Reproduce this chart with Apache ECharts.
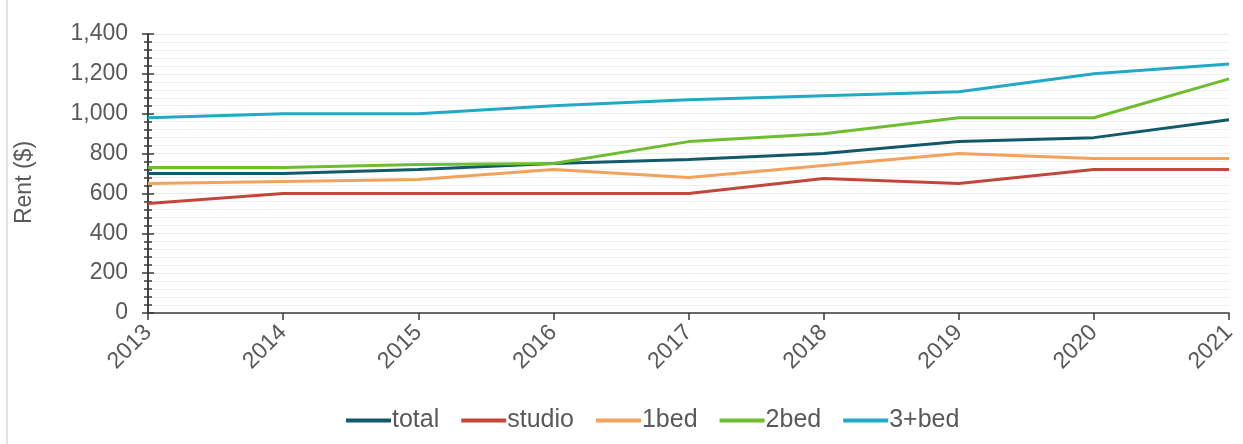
<!DOCTYPE html>
<html>
<head>
<meta charset="utf-8">
<script src="https://cdn.jsdelivr.net/npm/echarts@6/dist/echarts.min.js"></script>
<style>
  html, body { margin: 0; padding: 0; background: #ffffff; }
  #chart { width: 1243px; height: 444px; }
</style>
</head>
<body>
<div id="chart"></div>
<script>
// Average monthly rent by unit type, 2013–2021
const years = ['2013', '2014', '2015', '2016', '2017', '2018', '2019', '2020', '2021'];
const total  = [700, 700, 720, 750, 770, 800, 860, 880, 970];
const studio = [550, 600, 600, 600, 600, 675, 650, 720, 720];
const bed1   = [650, 660, 670, 720, 680, 740, 800, 775, 775];
const bed2   = [730, 730, 745, 750, 860, 900, 980, 980, 1175];
const bed3   = [980, 1000, 1000, 1040, 1070, 1090, 1110, 1200, 1250];
const yTicks = [0, 200, 400, 600, 800, 1000, 1200, 1400];

const seriesDefs = [
  { name: 'total',  data: total,  color: '#12596a' },
  { name: 'studio', data: studio, color: '#c2473b' },
  { name: '1bed',   data: bed1,   color: '#f2a25a' },
  { name: '2bed',   data: bed2,   color: '#6dbd2f' },
  { name: '3+bed',  data: bed3,   color: '#21a9c6' }
];

const textColor = '#595959';
const font = 'Liberation Sans, Arial, sans-serif';
const fs = 23;

const chart = echarts.init(document.getElementById('chart'), null, { renderer: 'canvas' });

const yBase = {
  type: 'value',
  min: yTicks[0],
  max: yTicks[yTicks.length - 1],
  interval: 200,
  position: 'left',
  axisLine: { show: true, lineStyle: { color: '#3a3a3a', width: 1.5 } },
  minorTick: { show: true, splitNumber: 5, length: 4, lineStyle: { color: '#3a3a3a', width: 1.5 } }
};

chart.setOption({
  animation: false,
  textStyle: { fontFamily: font },
  graphic: [{
    // thin frame edge on the left side of the figure
    type: 'line',
    shape: { x1: 7, y1: 0, x2: 7, y2: 444 },
    style: { stroke: '#c8c8c8', lineWidth: 1 },
    silent: true
  }],
  grid: { left: 148, right: 14, top: 34, bottom: 131, containLabel: false },
  legend: {
    bottom: 6,
    left: 341,
    itemGap: 22,
    itemWidth: 45,
    itemHeight: 4,
    icon: 'rect',
    textStyle: { color: textColor, fontSize: 25, fontFamily: font, padding: [0, 0, 0, -4] },
    data: seriesDefs.map(s => s.name)
  },
  xAxis: {
    type: 'category',
    data: years,
    boundaryGap: false,
    axisLine: { lineStyle: { color: '#3a3a3a', width: 1.5 } },
    axisTick: { show: true, alignWithLabel: true, length: 7, lineStyle: { color: '#3a3a3a', width: 1.5 } },
    axisLabel: { rotate: 45, color: textColor, fontSize: fs, fontFamily: font, margin: 16 },
    splitLine: { show: false }
  },
  yAxis: [
    Object.assign({}, yBase, {
      name: 'Rent ($)',
      nameLocation: 'middle',
      nameGap: 112,
      nameRotate: 90,
      nameTextStyle: { color: textColor, fontSize: fs, fontFamily: font, padding: [0, 18, 0, 0] },
      axisTick: { show: true, length: 6, lineStyle: { color: '#3a3a3a', width: 1.5 } },
      axisLabel: {
        color: textColor, fontSize: fs, fontFamily: font, margin: 20,
        formatter: v => v.toLocaleString('en-US')
      },
      splitLine: { show: true, lineStyle: { color: '#ececec', width: 1 } },
      minorSplitLine: { show: true, lineStyle: { color: '#f0f0f0', width: 1 } }
    }),
    // second copy of the same scale: ticks pointing into the plot so they cross the axis
    Object.assign({}, yBase, {
      axisTick: { show: true, inside: true, length: 6, lineStyle: { color: '#3a3a3a', width: 1.5 } },
      minorTick: { show: true, splitNumber: 5, length: 4, lineStyle: { color: '#3a3a3a', width: 1.5 } },
      axisLabel: { show: false },
      splitLine: { show: false },
      minorSplitLine: { show: false }
    })
  ],
  series: seriesDefs.map(s => ({
    name: s.name,
    type: 'line',
    data: s.data,
    yAxisIndex: 0,
    symbol: 'none',
    smooth: false,
    lineStyle: { color: s.color, width: 3 },
    itemStyle: { color: s.color }
  }))
});
</script>
</body>
</html>
